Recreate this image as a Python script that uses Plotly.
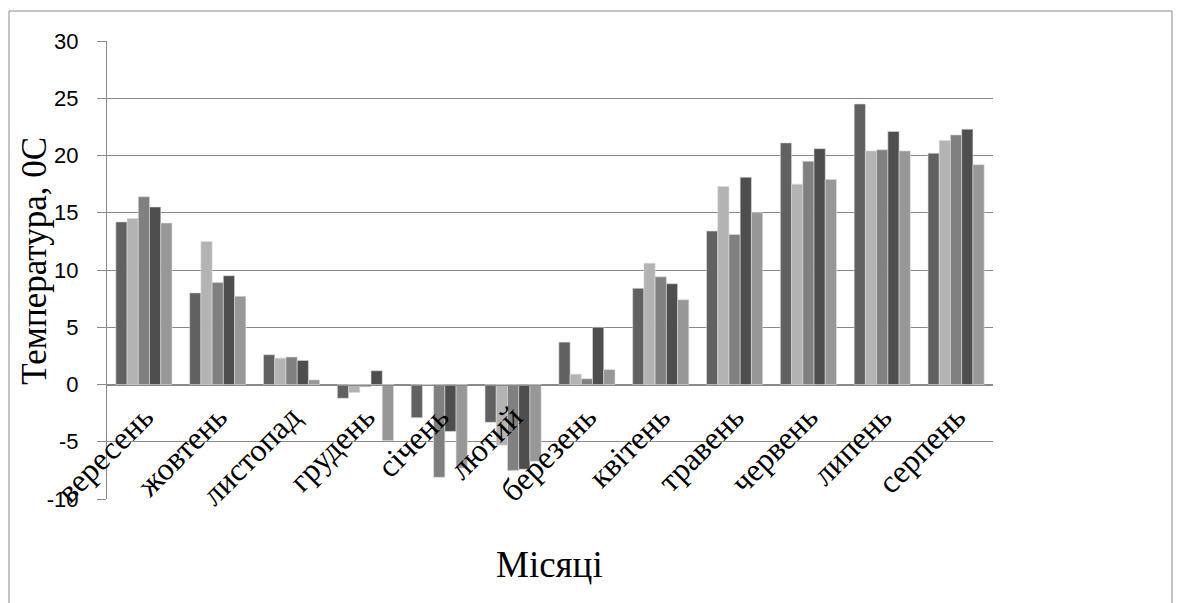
import plotly.graph_objects as go

months = ["вересень", "жовтень", "листопад", "грудень", "січень", "лютий",
          "березень", "квітень", "травень", "червень", "липень", "серпень"]
series_names = ["Ряд1", "Ряд2", "Ряд3", "Ряд4", "Ряд5"]
s1 = [14.2, 8.0, 2.6, -1.2, -2.9, -3.3, 3.7, 8.4, 13.4, 21.1, 24.5, 20.2]
s2 = [14.5, 12.5, 2.3, -0.7, 0.0, -5.3, 0.9, 10.6, 17.3, 17.5, 20.4, 21.3]
s3 = [16.4, 8.9, 2.4, -0.2, -8.1, -7.5, 0.5, 9.4, 13.1, 19.5, 20.5, 21.8]
s4 = [15.5, 9.5, 2.1, 1.2, -4.1, -7.4, 5.0, 8.8, 18.1, 20.6, 22.1, 22.3]
s5 = [14.1, 7.7, 0.4, -4.9, -7.3, -6.7, 1.3, 7.4, 15.0, 17.9, 20.4, 19.2]
y_ticks = [-10, -5, 0, 5, 10, 15, 20, 25, 30]
y_ticktext = ["-10", "-5", "0", "5", "10", "15", "20", "25", "30"]
y_title = "Температура, 0С"
x_title = "Місяці"

colors = ["#616161", "#b3b3b3", "#808080", "#4e4e4e", "#979797"]
fig = go.Figure()
for name, vals, c in zip(series_names, [s1, s2, s3, s4, s5], colors):
    fig.add_trace(go.Bar(x=months, y=vals, name=name,
                         marker=dict(color=c, line=dict(color="#dcdcdc", width=0.6))))

grid = "#8a8a8a"
fig.update_layout(
    width=1184, height=603,
    margin=dict(l=99, r=199, t=33, b=112),
    barmode="group", bargap=0.24, bargroupgap=0,
    showlegend=False,
    plot_bgcolor="white", paper_bgcolor="white",
    xaxis=dict(anchor="free", position=0.25, showline=True, linecolor=grid, linewidth=1,
               tickangle=-45, ticks="", showgrid=False,
               tickfont=dict(family="Liberation Serif", size=32, color="black")),
    yaxis=dict(range=[-10, 30], tickvals=y_ticks, ticktext=y_ticktext,
               showgrid=True, gridcolor=grid, gridwidth=1,
               showline=True, linecolor=grid, linewidth=1, ticks="outside", ticklen=9,
               tickcolor=grid, zeroline=False, ticklabelstandoff=14,
               tickfont=dict(family="Liberation Sans", size=22, color="black")),
    annotations=[
        dict(text=y_title, xref="paper", yref="paper", x=-0.0813, y=0.52, textangle=-90,
             showarrow=False, xanchor="center", yanchor="middle",
             font=dict(family="Liberation Serif", size=35, color="black")),
        dict(text=x_title, xref="paper", yref="paper", x=0.499, y=-0.144,
             showarrow=False, xanchor="center", yanchor="middle",
             font=dict(family="Liberation Serif", size=37, color="black")),
    ],
    shapes=[dict(type="rect", xref="paper", yref="paper", x0=-0.1106, x1=1.202,
                 y0=-0.24, y1=1.0655, line=dict(color=grid, width=1), layer="below")],
)
fig.write_html("out.html")
